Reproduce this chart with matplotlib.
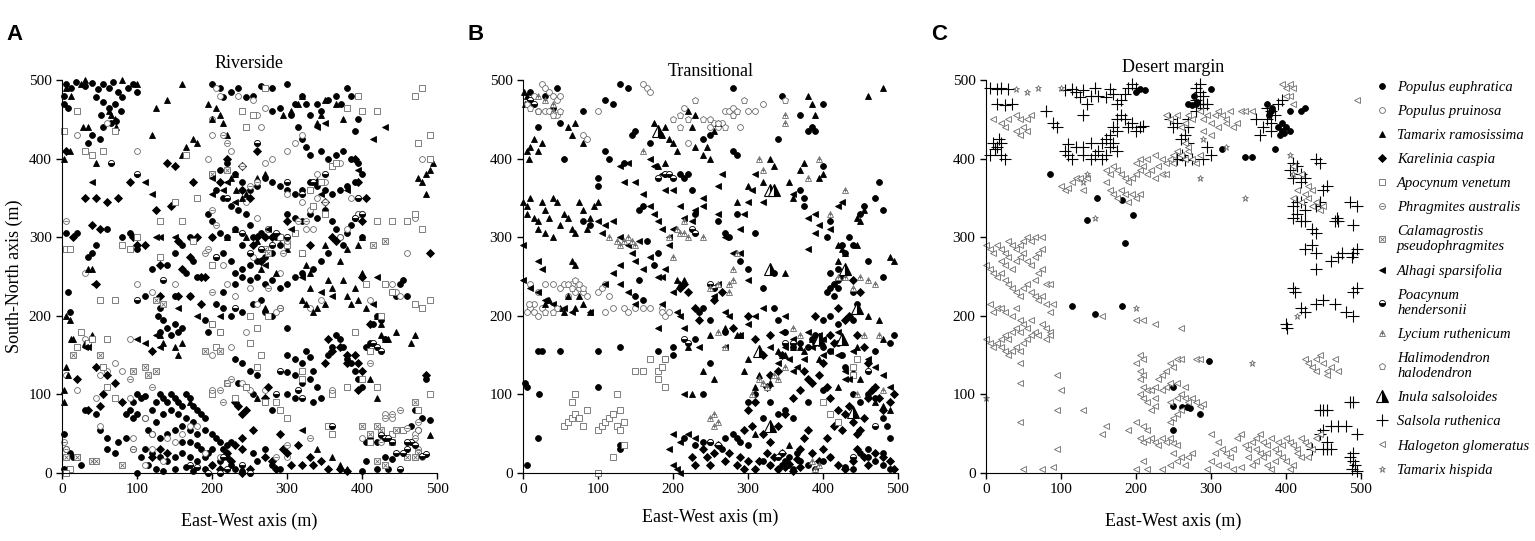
import numpy as np
import matplotlib
matplotlib.use('Agg')
import matplotlib.pyplot as plt
from matplotlib.lines import Line2D

plt.rcParams['font.family'] = ['Liberation Serif', 'DejaVu Serif']

#%% Data (x, y) in metres
# --- A: Riverside
A_pop_euph = [(5,495),(12,490),(18,497),(30,492),(40,496),(48,488),(55,495),(62,490),(68,497),(75,485),(80,478),(88,490),(95,495),(100,485),(3,470),(8,465),(2,480),(45,478),(55,472),(62,465),(70,470),(78,460),(52,455),(65,445),(72,448),(40,430),(35,420),(50,425),(55,440),
    (200,495),(210,490),(215,478),(225,485),(235,490),(245,478),(255,480),(265,492),(280,490),(300,495),(320,480),(325,470),(330,455),(340,470),(345,460),(355,475),(365,480),(372,470),(380,490),(385,480),(395,450),(390,435),(310,470),(290,465),(280,460),(305,455),(315,440),(320,425),(325,415),(330,405),(345,410),(355,400),(365,405),(375,410),(385,400),(395,395),(400,380),(390,370),(380,365),(370,360),(360,355),(350,360),(340,365),(330,370),(320,360),(310,355),(300,360),(290,365),(280,370),(270,375),(260,365),(250,360),(240,370),(230,380),(220,395),(210,385),(200,380),(205,360),(215,350),(225,340),(235,335),(245,330),(250,315),(255,300),(265,305),(275,310),(285,300),(290,290),(280,280),(270,275),(260,270),(250,265),(240,260),(230,255),(225,270),(215,280),(205,275),(200,300),(210,305),(220,300),(230,310),(240,290),(200,320),(195,330),(300,330),(310,325),(320,320),(330,330),(340,325),(350,335),(360,320),(365,310),(370,300),(380,305),(385,315),(390,325),(395,330),(400,300),(375,290),(355,280),(345,270),(335,260),(320,255),(310,250),(300,240),(290,235),(280,245),(270,240),(260,250),(250,245),(240,250),(230,240),(215,230),(205,215),(215,210),(225,200),(240,205),(255,215),(265,220),(270,205),(280,200),(290,210),(200,190),(195,180),(210,180),(300,185),(190,195),
    (40,280),(35,275),(45,290),(20,305),(5,305),(8,230),(10,205),(80,300),(60,310),(90,305),(100,285),(120,260),(110,225),(130,210),(150,225),(170,225),(180,250),(165,255),(175,270),(160,290),(150,280),(140,265),(170,300),
    (130,180),(140,185),(150,190),(155,180),(145,175),(135,195),(160,185),(128,200),
    (300,150),(310,145),(320,140),(325,155),(330,148),(335,130),(330,120),(320,115),(310,125),(300,128),(340,110),(345,95),(335,90),(355,150),(360,160),(365,175),(370,170),(375,160),(380,145),(385,140),(390,130),(395,120),(400,110),(405,160),(410,165),(415,190),(420,200),(425,195),(430,170),(440,230),(445,225),(450,240),(455,245),(460,225),
    (230,145),(240,140),(250,130),(260,125),(235,115),(245,110),(255,100),(270,90),(280,80),(300,100),(310,95),
    (100,100),(105,95),(110,98),(95,90),(90,80),(85,75),(95,70),(100,75),(110,70),(120,80),(125,90),(130,100),(135,95),(140,90),(145,100),(150,95),(155,90),(160,85),(165,100),(170,95),(175,85),(180,80),(185,75),(190,70),(175,65),(165,70),(155,75),(145,80),(135,75),(125,65),(115,55),(120,50),(130,45),(140,50),(150,55),(160,60),(170,55),(180,50),(190,55),(200,50),(205,45),(210,40),(215,30),(220,35),(225,40),(200,30),(195,25),(190,20),(180,15),(170,20),(160,25),(150,20),(140,15),(130,20),(120,25),(110,30),(105,20),(115,10),(125,5),(135,2),(150,5),(165,8),(175,3),(190,5),(200,10),(210,15),(220,20),(225,10),(100,0),(95,30),(85,45),(75,40),(60,45),(50,55),(45,75),(30,80),(25,10),(15,20),(10,25),(5,30),(2,50),(8,5),(2,5),(60,30),(70,25),(230,5),(240,2),(255,25),(270,30),(260,15),(280,10),(290,5),(170,40),(160,40),(180,35),(185,30),
    (430,20),(440,18),(420,5),(400,2),(405,15),(435,5),(490,68),(480,70),(455,55),(465,60),(475,55),(420,40),(410,45),(405,40),(470,80),(485,120)]
A_pop_prui = [(205,490),(210,480),(235,480),(255,475),(270,465),(260,455),(265,440),(200,430),(195,400),(200,450),(225,410),(240,360),(245,345),(260,325),(275,310),(255,275),(215,265),(220,240),(230,225),(250,235),(260,215),(245,180),(225,160),(200,150),(150,240),(100,410),(20,430),(60,445),(30,255),(50,60),(90,95),(110,70),(120,50),(160,50),(180,60),(190,25),(210,20),(220,25),(300,20),(330,210),(345,220),(340,380),(350,370),(320,345),(340,350),(370,300),(380,310),(395,330),(385,350),(370,395),(300,355),(300,410),(310,420),(320,430),(280,400),(270,395),(410,220),(440,240),(445,230),(450,225),(460,280),(470,325),(480,400),(470,50),(475,55),(480,20),(430,75),(440,70),(400,45),(425,50),(240,115),(250,105),(270,105),(285,205),(290,255),(330,335),(325,310),(335,310),(45,95),(60,130),(70,140),(80,130),(100,240),(120,230),(90,170),(30,170),(40,170),(50,125),(20,105),(5,125),(110,10),(95,45),(120,30),(135,15),(140,45),(150,40),(170,60)]
A_tam_ramo = [(5,490),(12,480),(25,495),(30,500),(65,455),(70,450),(62,460),(72,440),(28,440),(35,440),(45,395),(2,400),(80,500),(100,495),(120,430),(125,465),(140,475),(160,495),(160,405),(165,415),(175,425),(180,420),(195,470),(200,450),(205,465),(210,455),(215,445),(220,430),(230,380),(225,375),(232,360),(240,350),(245,355),(260,375),(270,380),(295,455),(305,460),(315,470),(320,480),(345,455),(350,475),(365,470),(375,450),(340,445),(220,300),(230,310),(245,300),(260,295),(265,260),(270,210),(285,255),(300,285),(320,280),(325,265),(330,255),(330,235),(320,220),(325,215),(335,205),(340,210),(350,215),(355,245),(360,235),(370,270),(375,245),(380,225),(385,215),(390,235),(395,220),(400,255),(405,210),(350,290),(380,285),(395,290),(400,300),(420,200),(425,190),(425,175),(430,170),(435,170),(445,180),(470,175),(465,165),(5,200),(10,195),(12,170),(15,170),(5,135),(8,125),(2,105),(3,90),(30,165),(40,175),(40,260),(35,260),(10,410),(260,95),(170,90),(155,150),(150,160),(160,165),(130,175),(135,165),(360,20),(370,10),(380,5),(340,30),(480,370),(485,380),(490,385),(495,395),(485,355),(475,375),(490,48),(420,95),(410,120)]
A_kar_casp = [(5,410),(30,350),(45,350),(60,345),(15,300),(50,310),(40,315),(45,240),(75,350),(95,300),(90,370),(100,290),(110,290),(125,335),(130,265),(140,395),(150,390),(145,340),(155,295),(175,370),(170,275),(180,300),(185,250),(190,250),(160,260),(130,225),(155,225),(170,225),(185,215),(200,300),(220,400),(210,370),(240,360),(250,350),(240,390),(260,410),(260,300),(270,300),(280,300),(290,300),(300,320),(330,290),(340,370),(350,345),(360,300),(365,295),(390,400),(400,320),(395,370),(405,350),(400,250),(410,190),(490,280),(485,125),(380,150),(380,140),(390,150),(395,140),(400,130),(395,105),(360,155),(355,170),(370,160),(350,140),(255,290),(265,270),(230,90),(235,85),(240,75),(245,80),(255,55),(270,95),(275,110),(290,50),(295,30),(300,25),(305,10),(315,35),(320,10),(330,20),(335,10),(345,15),(355,5),(370,5),(380,2),(200,10),(210,5),(220,25),(225,15),(240,0),(250,5),(270,20),(280,15),(285,5),(240,45),(240,30),(230,35),(20,120),(35,80),(50,85),(55,100),(70,115),(60,125),(120,20),(130,30),(140,25),(80,90),(45,135),(120,155)]
A_apo_vene = [(2,435),(20,460),(30,410),(40,405),(55,410),(70,435),(80,290),(90,285),(100,300),(130,320),(130,275),(150,345),(160,320),(175,295),(165,405),(180,350),(200,265),(200,190),(210,180),(205,160),(200,100),(220,115),(240,460),(245,440),(255,455),(270,490),(290,300),(300,290),(310,305),(320,280),(330,360),(335,340),(345,370),(350,330),(360,390),(365,395),(380,465),(395,480),(400,460),(420,460),(420,320),(440,320),(460,320),(470,330),(480,310),(490,400),(470,480),(480,490),(475,420),(490,430),(480,210),(490,220),(470,215),(430,240),(440,230),(405,240),(425,200),(420,110),(400,120),(390,180),(410,155),(490,100),(475,80),(440,50),(455,55),(410,40),(380,110),(360,100),(360,50),(355,60),(320,120),(320,130),(300,70),(290,80),(285,90),(270,90),(260,135),(265,150),(250,165),(260,185),(250,200),(275,200),(245,110),(230,95),(55,135),(60,110),(35,165),(40,170),(20,160),(25,180),(5,285),(10,285),(70,95),(60,170),(70,220),(50,220),(20,20),(10,5),(5,0)]
A_phr_aust = [(215,430),(220,420),(240,390),(250,365),(260,370),(200,335),(205,315),(295,280),(275,235),(290,210),(300,295),(315,320),(325,320),(350,345),(395,350),(200,230),(190,280),(195,285),(225,120),(220,115),(210,105),(215,90),(200,105),(120,110),(90,120),(95,30),(430,70),(440,75),(450,80),(460,57),(470,45),(475,30),(470,20),(475,65),(425,40),(410,140),(360,105),(330,45),(300,35),(285,20),(5,320),(5,30),(2,40)]
A_cal_pseu = [(200,380),(220,385),(270,285),(275,280),(190,155),(210,155),(115,125),(110,135),(95,130),(125,130),(50,150),(15,150),(5,20),(20,20),(40,15),(45,15),(80,10),(445,55),(425,55),(440,40),(470,90),(460,20),(475,25),(470,20),(430,10),(420,15),(410,50),(420,60),(400,60),(430,295),(415,290),(125,220),(135,215)]
A_alh_spar = [(340,440),(350,445),(430,440),(415,425),(395,385),(380,360),(345,355),(320,250),(305,310),(275,310),(260,270),(270,265),(220,370),(215,360),(210,200),(230,345),(200,375),(110,370),(120,355),(125,300),(130,300),(150,300),(155,210),(100,170),(40,370),(35,160),(42,240),(30,160),(110,165),(130,160),(180,200),(320,55),(345,230),(360,225),(420,250),(415,215),(200,355),(125,175)]
A_poa_hend = [(205,275),(220,350),(250,280),(265,285),(280,290),(285,305),(300,300),(320,355),(335,370),(300,370),(260,420),(240,305),(100,380),(65,395),(100,220),(135,245),(230,210),(395,350),(390,325),(400,330),(350,380),(360,60),(460,30),(480,22),(485,24),(470,35),(465,40),(430,45),(440,40),(435,45),(425,48),(460,40),(455,25),(445,25),(450,5),(420,160),(425,155),(415,165),(320,95),(315,105),(290,130),(285,100),(250,0),(240,10),(210,0),(215,20),(220,5),(195,0),(180,8),(170,10)]

# --- B: Transitional
B_pop_euph = [(10,485),(30,480),(45,490),(20,440),(40,465),(50,445),(80,460),(110,475),(115,400),(110,410),(100,365),(100,375),(135,395),(145,430),(160,340),(155,335),(130,495),(140,490),(120,470),(80,320),(55,400),(90,315),(100,155),(5,10),(5,110),(3,115),(20,155),(25,155),(50,155),(20,45),(22,100),(100,110),(130,160),(130,35),(130,30),(150,435),(170,420),(180,280),(175,265),(165,295),(155,245),(150,225),(160,220),(180,155),(190,145),(200,150),(200,160),(210,380),(215,375),(220,380),(225,360),(230,330),(240,425),(250,430),(260,320),(270,305),(275,300),(285,330),(280,490),(280,410),(285,405),(290,270),(300,260),(310,305),(320,235),(335,255),(335,210),(340,195),(350,180),(340,425),(345,480),(370,455),(380,435),(385,440),(390,435),(370,360),(375,350),(375,340),(400,390),(400,470),(405,300),(410,320),(425,290),(430,280),(435,300),(440,290),(450,330),(460,270),(455,340),(470,350),(475,370),(480,335),(480,250),(470,155),(490,165),(495,175),(440,195),(420,190),(410,200),(400,195),(390,175),(395,165),(400,160),(410,155),(420,165),(425,150),(430,135),(380,160),(385,170),(390,165),(370,165),(360,160),(310,100),(330,90),(340,75),(350,80),(360,70),(320,70),(300,90),(380,90),(400,105),(440,100),(450,90),(460,100),(470,95),(480,70),(485,60),(490,45),(415,240),(420,245),(410,235),(405,230),(415,225),(420,235),(425,250),(430,255),(410,255),(420,260),(440,230),(445,215),(230,170),(240,210),(235,205),(250,140),(240,100),(250,195),(270,180),(215,45),(230,35),(240,40),(250,40),(265,30),(270,45),(280,50),(285,45),(290,40),(300,35),(320,15),(330,10),(340,5),(345,10),(350,15),(355,20),(360,5),(365,25),(370,15),(380,10),(390,5),(400,15),(410,20),(450,25),(460,30),(470,15),(480,10),(490,5),(430,8),(440,5),(460,20),(480,25)]
B_pop_prui = [(15,480),(25,495),(30,490),(35,485),(40,480),(45,475),(50,480),(30,460),(35,460),(45,455),(20,460),(5,470),(80,430),(85,425),(100,460),(160,495),(165,490),(170,485),(220,420),(215,465),(250,440),(255,445),(260,440),(265,445),(270,460),(275,460),(280,465),(290,440),(300,460),(310,460),(320,470),(10,240),(20,230),(30,240),(40,240),(50,235),(55,240),(60,225),(65,240),(70,230),(75,235),(80,230),(85,225),(100,230),(105,235),(110,240),(15,215),(10,210),(15,205),(20,200),(25,210),(115,225),(110,205),(120,210),(135,210),(140,205),(150,210),(160,210),(170,210),(185,210),(185,205),(190,200),(195,205),(5,205),(8,215)]
B_tam_ramo = [(2,485),(5,480),(3,470),(5,410),(10,415),(8,400),(15,425),(20,410),(25,420),(0,345),(5,340),(10,350),(5,330),(15,325),(20,320),(25,345),(30,335),(35,325),(40,350),(45,345),(50,315),(55,330),(60,325),(65,310),(70,305),(75,345),(80,335),(85,310),(90,325),(95,340),(100,345),(40,300),(30,305),(20,310),(65,270),(70,265),(30,215),(35,220),(50,210),(55,205),(60,225),(70,210),(75,225),(80,215),(90,205),(60,440),(65,430),(70,445),(80,420),(175,445),(180,435),(185,430),(190,440),(195,425),(200,420),(205,410),(220,460),(230,455),(240,405),(245,415),(250,400),(255,435),(260,445),(180,390),(190,395),(205,245),(210,240),(215,245),(220,160),(225,100),(240,130),(255,120),(250,175),(270,185),(285,175),(290,175),(300,145),(295,130),(310,110),(315,125),(330,115),(340,155),(345,150),(350,150),(360,160),(370,160),(375,155),(385,170),(395,145),(310,50),(355,35),(420,110),(440,130),(450,120),(460,100),(470,90),(480,85),(490,80),(445,160),(460,200),(475,195),(480,170),(490,275),(495,270),(460,480),(480,490),(400,380),(395,375),(370,385),(375,395),(330,400),(335,390),(320,370),(300,365),(285,345),(350,255),(355,370),(360,350),(380,480),(385,470),(390,455),(420,270),(430,280),(445,290),(420,290),(425,285),(450,320),(455,335),(445,325),(225,440),(230,415)]
B_kar_casp = [(210,235),(215,240),(220,230),(230,210),(235,195),(255,220),(265,230),(280,185),(300,200),(310,170),(320,150),(330,175),(345,150),(340,130),(330,125),(325,110),(310,90),(300,80),(305,60),(295,55),(320,50),(330,40),(340,60),(350,75),(360,95),(370,105),(375,130),(380,120),(385,115),(395,125),(405,110),(410,95),(420,80),(415,60),(425,55),(430,75),(435,85),(440,65),(445,50),(450,55),(455,70),(460,95),(465,105),(470,110),(475,95),(480,80),(490,90),(495,100),(380,55),(375,45),(370,30),(385,25),(395,15),(400,30),(405,45),(410,20),(420,10),(430,5),(440,15),(445,30),(455,20),(460,10),(470,25),(480,20),(490,15),(495,5),(240,30),(245,20),(250,10),(255,25),(260,35),(270,15),(275,25),(285,10),(290,20),(295,5),(300,15),(310,5),(315,15),(325,25),(330,10),(335,20),(340,5),(345,25),(350,8),(355,12),(360,2),(365,18),(370,8),(225,20),(230,10),(420,210),(430,195),(440,245),(445,175),(455,160),(460,140),(410,175),(415,165),(400,140),(390,200),(435,200),(450,230)]
B_apo_vene = [(55,60),(60,65),(65,70),(70,75),(65,90),(70,100),(75,70),(80,60),(85,80),(100,55),(105,60),(110,65),(115,70),(120,75),(125,60),(125,100),(130,80),(130,55),(135,65),(135,35),(120,20),(100,0),(150,130),(160,130),(170,145),(180,130),(185,135),(180,120),(190,110),(190,145),(400,90),(410,75),(420,65),(440,125),(445,145),(440,135)]
B_alh_spar = [(0,290),(0,245),(10,235),(20,230),(30,220),(20,270),(25,260),(40,215),(55,210),(65,205),(90,205),(100,320),(110,315),(105,305),(120,320),(130,300),(140,290),(145,280),(150,270),(155,295),(160,260),(130,265),(120,255),(110,240),(130,240),(140,230),(150,215),(170,340),(175,330),(180,320),(160,355),(150,370),(135,370),(130,390),(140,395),(170,400),(175,390),(185,380),(190,360),(200,360),(210,340),(215,325),(225,320),(230,335),(240,350),(185,310),(195,300),(200,310),(185,250),(195,290),(170,275),(180,250),(185,215),(200,230),(205,205),(210,200),(190,260),(180,185),(215,185),(235,160),(270,160),(290,175),(300,190),(310,200),(320,210),(340,140),(350,160),(360,170),(375,145),(385,160),(380,180),(395,175),(400,170),(410,155),(420,150),(430,130),(435,120),(440,155),(460,145),(470,135),(480,125),(490,110),(240,340),(260,330),(270,300),(290,280),(300,245),(330,160),(345,180),(350,200),(355,145),(365,135),(360,130),(400,150),(420,180),(430,120),(215,100),(200,50),(210,40),(220,50),(230,45),(195,30),(200,10),(205,5),(210,0),(380,285),(390,305),(395,315),(410,310),(420,340),(425,345),(380,325),(390,330),(360,355),(255,225),(260,240),(270,205),(275,200),(280,280),(290,310),(295,330),(300,345),(305,360),(310,380),(320,345),(260,365),(265,380)]
B_poa_hend = [(10,475),(15,470),(180,375),(190,380),(195,380),(200,375),(225,310),(230,305),(215,170),(220,165),(350,165),(360,165),(250,240),(255,235),(340,20),(345,25),(260,35),(250,40),(460,130),(470,60),(440,20)]
B_lyc_ruth = [(20,480),(30,475),(40,470),(40,460),(115,300),(125,295),(130,290),(135,295),(140,300),(145,295),(150,290),(160,410),(195,300),(205,310),(210,305),(215,320),(215,305),(220,300),(200,275),(240,300),(275,240),(280,245),(250,235),(260,240),(275,230),(280,260),(285,280),(270,160),(260,180),(250,70),(255,75),(260,65),(255,60),(305,100),(315,120),(320,115),(325,110),(335,125),(340,120),(350,135),(360,185),(370,175),(380,375),(395,400),(315,400),(320,385),(350,455),(350,445),(385,15),(395,10),(390,5),(410,330),(430,360),(445,100),(460,245),(470,240),(480,105),(420,250),(430,250),(440,235),(450,250),(455,175),(475,175)]
B_hal_halo = [(5,470),(10,465),(20,460),(40,455),(50,460),(200,450),(210,455),(220,450),(230,475),(240,450),(250,450),(260,445),(270,440),(280,455),(210,440),(285,460),(295,475),(350,475),(45,210),(40,205),(30,205),(60,240),(65,235),(70,245),(75,240),(80,235)]
B_inu_sals = [(180,435),(330,360),(335,360),(330,260),(430,260),(445,210),(425,170),(315,155),(330,60),(440,78),(395,170)]

# --- C: Desert margin
C_pop_euph = [(200,485),(212,487),(300,489),(205,488),(375,470),(405,460),(420,460),(425,465),(315,412),(345,402),(355,402),(385,412),(395,435),(390,440),(400,440),(398,432),(392,430),(395,445),(405,435),(85,380),(148,350),(182,347),(196,328),(135,322),(185,293),(115,212),(145,202),(182,212),(298,142),(250,110),(250,85),(262,84),(272,83),(268,84),(285,75),(250,55),(280,470),(275,468),(270,470),(282,472),(278,480),(380,460),(378,455),(382,465)]
C_sal_ruth = [(5,490),(15,488),(20,490),(30,488),(35,470),(15,470),(25,468),(10,420),(15,415),(20,420),(12,412),(18,425),(5,405),(25,400),(20,405),(80,460),(90,445),(95,440),(105,487),(115,488),(120,485),(130,487),(125,478),(135,470),(130,455),(140,480),(145,490),(150,480),(160,478),(165,488),(170,482),(175,470),(180,475),(185,482),(190,490),(195,495),(200,490),(185,450),(195,445),(190,440),(200,435),(205,440),(210,442),(170,440),(175,435),(165,430),(160,425),(165,415),(170,420),(175,410),(160,405),(150,410),(155,420),(140,420),(130,415),(120,415),(110,418),(105,410),(110,405),(115,400),(130,405),(140,400),(145,405),(155,400),(175,450),(180,455),(285,495),(280,490),(285,485),(290,480),(290,470),(285,470),(280,475),(290,465),(295,470),(280,460),(270,450),(270,440),(265,430),(260,425),(270,420),(262,405),(255,400),(265,398),(275,400),(290,400),(300,405),(295,415),(250,440),(255,445),(245,450),(395,475),(390,470),(375,465),(380,460),(375,450),(380,445),(385,455),(380,435),(370,440),(365,430),(360,450),(405,385),(410,395),(415,390),(420,380),(410,375),(420,370),(425,375),(415,345),(410,340),(420,345),(425,335),(415,330),(420,320),(410,325),(425,320),(435,310),(440,305),(440,340),(445,345),(450,360),(455,365),(440,400),(445,395),(465,320),(470,320),(468,325),(485,345),(495,340),(490,315),(495,285),(490,280),(488,275),(475,280),(470,275),(460,270),(440,260),(435,290),(425,285),(440,280),(410,235),(412,230),(420,210),(425,205),(440,215),(450,220),(465,215),(480,205),(490,200),(490,230),(495,235),(400,190),(402,185),(460,60),(470,60),(450,55),(445,50),(455,40),(455,30),(460,30),(450,30),(480,60),(495,50),(485,20),(490,15),(492,10),(488,5),(495,2),(490,25),(485,90),(490,90),(445,80),(450,80),(455,80),(435,30)]
C_hal_glom = [(0,290),(5,285),(10,280),(15,290),(20,285),(25,280),(30,295),(35,290),(40,285),(45,290),(50,295),(55,300),(60,295),(65,300),(75,300),(20,270),(25,265),(30,275),(35,260),(40,270),(45,275),(50,280),(55,270),(60,265),(65,275),(70,280),(75,285),(0,265),(5,260),(10,255),(15,250),(20,255),(25,245),(30,240),(35,235),(40,230),(45,225),(50,235),(55,240),(60,230),(65,225),(70,220),(75,225),(80,240),(85,240),(80,215),(85,205),(90,215),(65,245),(70,255),(75,260),(5,215),(10,205),(15,210),(20,210),(25,205),(35,200),(40,210),(45,195),(50,190),(55,185),(60,195),(65,180),(70,175),(75,190),(80,185),(85,180),(85,175),(80,170),(0,170),(5,165),(10,160),(15,165),(20,160),(25,155),(30,150),(35,155),(40,160),(45,155),(50,165),(55,170),(60,175),(35,180),(40,185),(45,180),(30,170),(25,175),(20,170),(45,140),(45,65),(45,115),(95,125),(95,80),(100,105),(95,30),(50,5),(75,5),(90,8),(130,80),(155,50),(160,60),(155,200),(200,195),(210,195),(225,190),(260,185),
    (10,450),(20,445),(25,440),(30,450),(40,455),(45,450),(50,440),(55,450),(40,435),(45,430),(55,435),(60,455),
    (100,365),(105,360),(110,362),(115,370),(120,375),(125,375),(135,375),(130,360),(160,385),(165,380),(170,390),(175,385),(160,370),(165,360),(170,355),(175,350),(180,360),(185,355),(190,345),(195,355),(200,350),(205,355),(180,380),(185,375),(190,370),(195,375),(200,380),(205,385),(210,390),(215,380),(220,385),(225,375),(230,390),(235,380),(240,395),(245,400),(250,405),(255,410),(260,405),(265,400),(270,410),(275,400),(280,395),(285,405),(265,420),(270,415),(250,395),(240,380),(200,395),(205,400),(215,400),(225,405),(235,400),
    (240,455),(245,450),(255,455),(260,440),(265,445),(270,455),(275,450),(285,460),(290,450),(295,455),(300,445),(305,455),(310,460),(315,455),(320,445),(325,460),(330,440),(335,445),(340,460),(345,460),(355,460),(310,440),(300,430),(290,435),(320,450),
    (395,495),(400,490),(405,495),(410,490),(405,480),(410,470),(400,480),
    (410,350),(415,360),(420,345),(425,355),(430,350),(435,340),(440,345),(445,335),(450,340),(430,365),(435,360),(420,380),(410,390),
    (205,150),(200,140),(210,145),(205,130),(210,125),(205,120),(210,110),(215,105),(205,100),(210,95),(220,105),(225,110),(230,120),(235,125),(240,130),(245,140),(250,135),(255,145),(260,145),(265,110),(255,115),(245,115),(240,110),(235,105),(225,95),(225,85),(215,90),(220,80),(245,90),(255,95),(260,100),(265,95),(270,90),(275,95),(280,90),(285,85),(290,88),(260,80),(255,75),(250,70),(245,65),(200,65),(210,60),(215,55),(220,45),(225,40),(230,35),(205,45),(210,40),(215,42),(235,45),(240,40),(245,45),(250,38),(255,35),(250,25),(255,15),(260,20),(265,10),(245,10),(235,5),(215,5),(210,15),(200,5),(190,55),(270,20),(275,25),(280,145),(285,145),
    (300,50),(310,40),(315,30),(320,25),(325,20),(330,30),(335,45),(340,50),(345,35),(350,30),(355,40),(360,45),(365,50),(370,40),(375,35),(380,45),(385,30),(390,40),(395,35),(400,45),(405,40),(410,35),(415,30),(420,45),(425,40),(430,35),(435,30),(440,45),(445,50),(320,10),(330,5),(340,8),(350,20),(355,10),(360,15),(365,25),(370,20),(375,10),(380,5),(385,15),(390,25),(395,20),(400,15),(405,5),(410,10),(415,25),(420,20),(430,20),(305,25),(310,10),(300,15),(295,5),(360,30),(375,25),
    (425,145),(430,140),(435,135),(440,145),(445,150),(450,140),(455,130),(460,135),(465,145),(470,130),(455,125),(440,130),(495,475)]
C_tam_hisp = [(40,488),(55,485),(70,490),(135,380),(145,325),(130,370),(200,210),(285,375),(345,350),(405,405),(410,380),(415,200),(355,140),(290,425),(320,415),(0,95),(100,490)]

species = ['Populus euphratica', 'Populus pruinosa', 'Tamarix ramosissima', 'Karelinia caspia',
           'Apocynum venetum', 'Phragmites australis', 'Calamagrostis\npseudophragmites',
           'Alhagi sparsifolia', 'Poacynum\nhendersonii', 'Lycium ruthenicum',
           'Halimodendron\nhalodendron', 'Inula salsoloides', 'Salsola ruthenica',
           'Halogeton glomeratus', 'Tamarix hispida']

panel_data = {
    'A': {0: A_pop_euph, 1: A_pop_prui, 2: A_tam_ramo, 3: A_kar_casp, 4: A_apo_vene,
          5: A_phr_aust, 6: A_cal_pseu, 7: A_alh_spar, 8: A_poa_hend},
    'B': {0: B_pop_euph, 1: B_pop_prui, 2: B_tam_ramo, 3: B_kar_casp, 4: B_apo_vene,
          7: B_alh_spar, 8: B_poa_hend, 9: B_lyc_ruth, 10: B_hal_halo, 11: B_inu_sals},
    'C': {0: C_pop_euph, 12: C_sal_ruth, 13: C_hal_glom, 14: C_tam_hisp},
}
titles = {'A': 'Riverside', 'B': 'Transitional', 'C': 'Desert margin'}

#%% marker styles (each a list of layers drawn on top of one another)
grey = '#6a6a6a'
def st(marker, ms, fc, ec, mew=0.6, **kw):
    d = dict(marker=marker, markersize=ms, markerfacecolor=fc, markeredgecolor=ec,
             markeredgewidth=mew, linestyle='none')
    d.update(kw)
    return d

styles = [
    [st('o', 4.2, 'black', 'black')],
    [st('o', 4.2, 'white', grey)],
    [st('^', 5, 'black', 'black')],
    [st('D', 3.6, 'black', 'black')],
    [st('s', 3.8, 'white', grey)],
    [st('o', 4.2, 'white', grey), st('_', 3.2, 'none', grey, 0.6)],
    [st('s', 3.8, 'white', grey), st('x', 2.4, 'none', grey, 0.6)],
    [st('<', 4.6, 'black', 'black')],
    [st('o', 4.4, 'black', 'black', 0.6, fillstyle='bottom', markerfacecoloralt='white')],
    [st('^', 5, 'white', grey), st('+', 2.6, 'none', grey, 0.6)],
    [st('p', 4.8, 'white', grey)],
    [st('^', 9, 'black', 'black', 0.8, fillstyle='right', markerfacecoloralt='white')],
    [st('+', 8, 'none', 'black', 0.8)],
    [st('<', 5, 'white', grey)],
    [st('*', 5, 'white', grey)],
]

fig = plt.figure(figsize=(15.35, 5.41), dpi=100)
lefts = {'A': 0.0404, 'B': 0.3407, 'C': 0.6423}
title_y = {'A': 1.03, 'B': 1.01, 'C': 1.02}
xpad = {'A': 12, 'B': 9, 'C': 12}

for key in ['A', 'B', 'C']:
    ax = fig.add_axes([lefts[key], 0.1257, 0.2443, 0.7264])
    for idx, pts in panel_data[key].items():
        xs = [p[0] for p in pts]
        ys = [p[1] for p in pts]
        for layer in styles[idx]:
            ax.plot(xs, ys, clip_on=False, **layer)
    ax.set_xlim(0, 500)
    ax.set_ylim(0, 500)
    ax.set_xticks([0, 100, 200, 300, 400, 500])
    ax.set_yticks([0, 100, 200, 300, 400, 500])
    ax.spines['top'].set_visible(False)
    ax.spines['right'].set_visible(False)
    ax.tick_params(direction='out', length=4, width=1, labelsize=11)
    ax.set_xlabel('East-West axis (m)', fontsize=13, labelpad=xpad[key])
    if key == 'A':
        ax.set_ylabel('South-North axis (m)', fontsize=13, labelpad=4)
    ax.set_title(titles[key], fontsize=13, y=title_y[key], pad=0)
    fig.text(lefts[key] - 0.036, 0.955, key, fontsize=16, fontweight='bold',
             family=['Liberation Sans', 'DejaVu Sans'], va='top')

# legend
handles = []
for layers in styles:
    hl = tuple(Line2D([], [], **layer) for layer in layers)
    handles.append(hl if len(hl) > 1 else hl[0])
fig.legend(handles, species, loc='upper left', bbox_to_anchor=(0.893, 0.862),
           frameon=False, prop={'style': 'italic', 'size': 10.5}, handlelength=0.8,
           handletextpad=0.6, labelspacing=0.75, borderaxespad=0)

fig.savefig('out.png', dpi=100)
